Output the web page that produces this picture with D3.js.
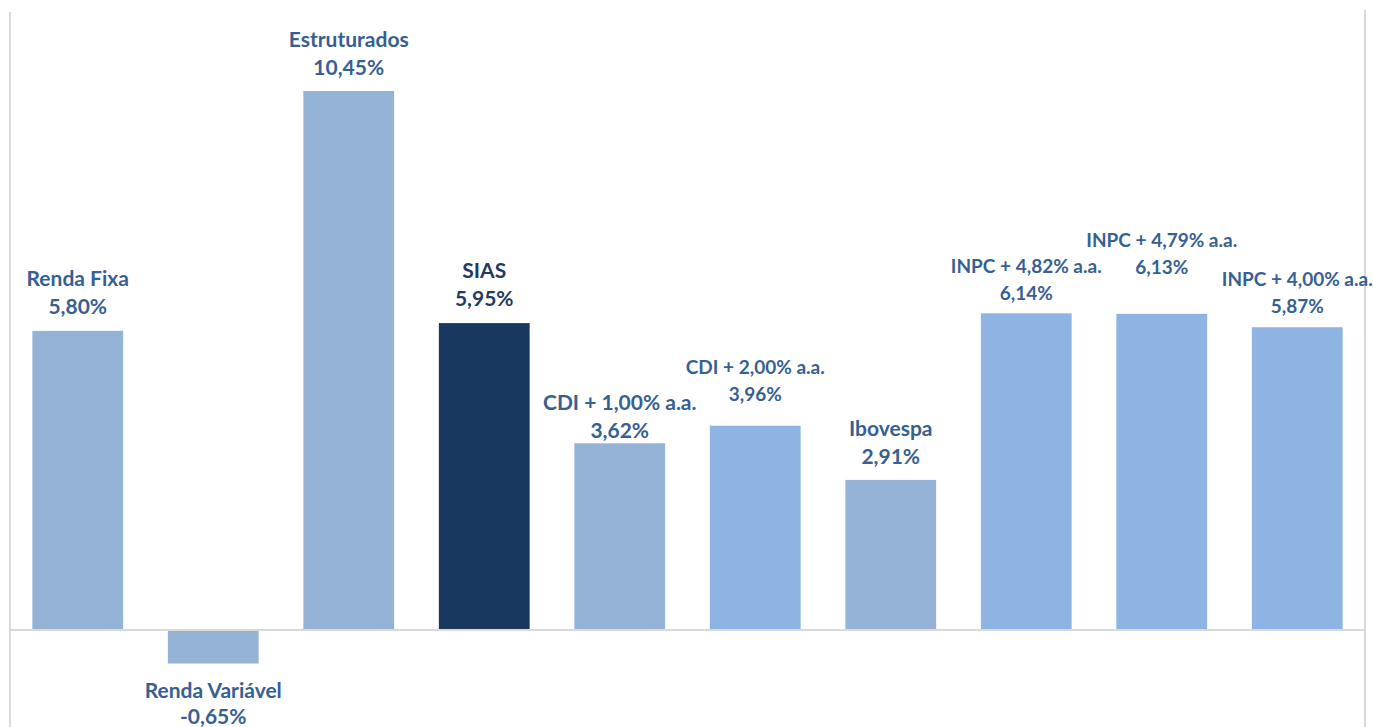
<!DOCTYPE html>
<html>
<head>
<meta charset="utf-8">
<script src="https://cdn.jsdelivr.net/npm/d3@7"></script>
<style>
  body { margin: 0; background: #fff; }
  text { font-family: Lato, "Open Sans", sans-serif; font-weight: bold; }
</style>
</head>
<body>
<svg width="1373" height="727"></svg>
<script>
var categories = ["Renda Fixa", "Renda Variável", "Estruturados", "SIAS", "CDI + 1,00% a.a.",
    "CDI + 2,00% a.a.", "Ibovespa", "INPC + 4,82% a.a.", "INPC + 4,79% a.a.", "INPC + 4,00% a.a."];
var values = [5.80, -0.65, 10.45, 5.95, 3.62, 3.96, 2.91, 6.14, 6.13, 5.87];
var valueLabels = ["5,80%", "-0,65%", "10,45%", "5,95%", "3,62%", "3,96%", "2,91%", "6,14%", "6,13%", "5,87%"];
var barColors = ["#95B3D7", "#95B3D7", "#95B3D7", "#17375E", "#95B3D7",
    "#8DB4E2", "#95B3D7", "#8DB4E2", "#8DB4E2", "#8DB4E2"];

var svg = d3.select("svg"),
    width = +svg.attr("width"),
    height = +svg.attr("height");

var left = 10, right = 1365;

var x = d3.scaleBand()
    .domain(categories)
    .range([left, right])
    .paddingInner(0.33)
    .paddingOuter(0.165);

// zero at y=630, 10.45 at y=91
var y = d3.scaleLinear()
    .domain([0, 10.45])
    .range([630, 91]);

// frame lines
svg.append("line")
    .attr("x1", left).attr("x2", left)
    .attr("y1", 12).attr("y2", height)
    .style("stroke", "#d9d9d9").style("stroke-width", "2px");
svg.append("line")
    .attr("x1", right).attr("x2", right)
    .attr("y1", 10).attr("y2", height)
    .style("stroke", "#d9d9d9").style("stroke-width", "2px");

svg.selectAll(".bar")
    .data(categories)
    .enter().append("rect")
    .attr("class", "bar")
    .attr("x", function(d) { return x(d); })
    .attr("width", x.bandwidth())
    .attr("y", function(d, i) { return y(Math.max(0, values[i])); })
    .attr("height", function(d, i) { return Math.abs(y(values[i]) - y(0)); })
    .style("fill", function(d, i) { return barColors[i]; });

// zero axis
svg.append("line")
    .attr("x1", left).attr("x2", right)
    .attr("y1", y(0)).attr("y2", y(0))
    .style("stroke", "#d9d9d9").style("stroke-width", "2px");

// label tweaks, as the labels were nudged by hand in the original
var labelShift = [0, 0, 1, 0, 11, -7, 1, 4, -22, 3];
var smallLabel = [false, false, false, false, false, true, false, true, true, true];

var labels = svg.selectAll(".lbl")
    .data(categories)
    .enter().append("text")
    .attr("class", "lbl")
    .attr("text-anchor", "middle")
    .style("fill", function(d) { return d === "SIAS" ? "#1F3A63" : "#376092"; })
    .style("font-size", function(d, i) { return smallLabel[i] ? "19px" : "21px"; });

labels.each(function(d, i) {
    var t = d3.select(this),
        cx = x(d) + x.bandwidth() / 2,
        v = values[i],
        gap = smallLabel[i] ? 27 : 28;
    if (v >= 0) {
        var vc = y(v) - 24 + labelShift[i];
        t.append("tspan").attr("x", cx).attr("y", vc - gap).attr("dy", "0.35em").text(d);
        t.append("tspan").attr("x", cx).attr("y", vc).attr("dy", "0.35em").text(valueLabels[i]);
    } else {
        var bot = y(v);
        t.append("tspan").attr("x", cx).attr("y", bot + 27).attr("dy", "0.35em").text(d);
        t.append("tspan").attr("x", cx).attr("y", bot + 53).attr("dy", "0.35em").text(valueLabels[i]);
    }
});
</script>
</body>
</html>
